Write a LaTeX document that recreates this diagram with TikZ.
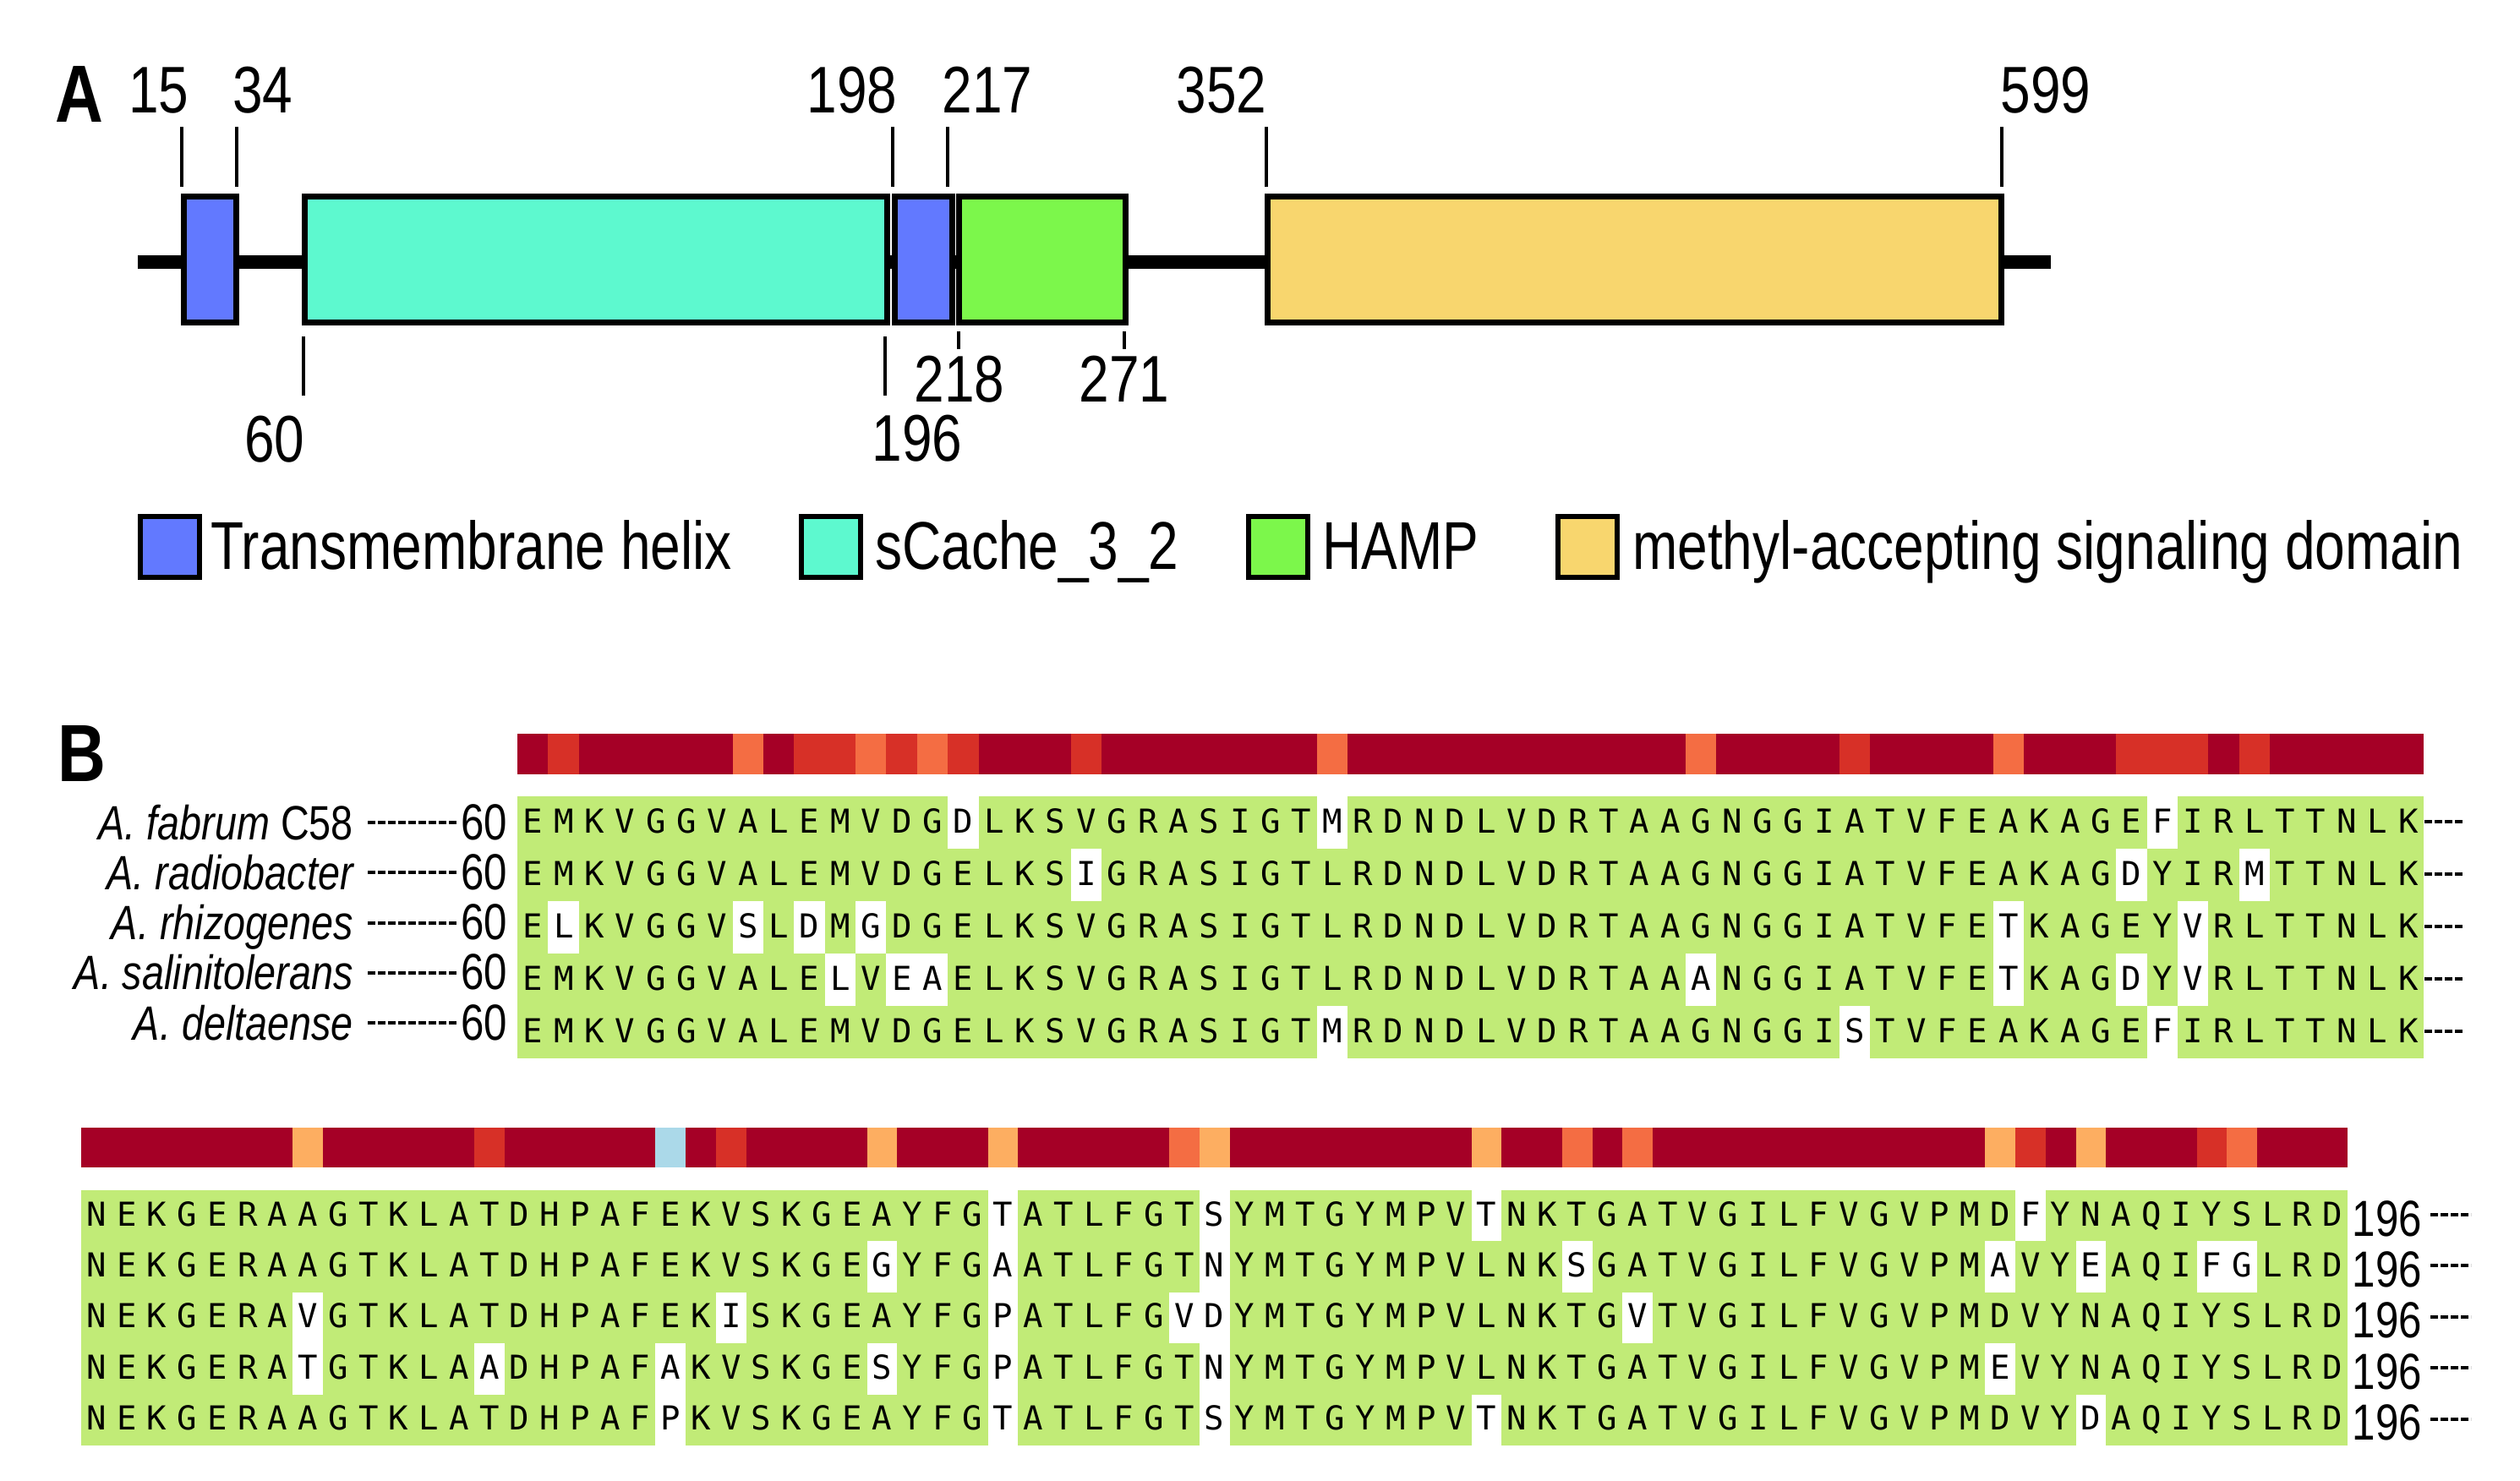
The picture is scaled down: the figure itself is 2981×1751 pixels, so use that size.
\documentclass[tikz,border=0pt]{standalone}
\usepackage{fontspec}
\setmainfont{Liberation Sans}
\newfontfamily\narrowsf[FakeStretch=0.82]{Liberation Sans}
\newfontfamily\legendsf[FakeStretch=0.8]{Liberation Sans}
\newfontfamily\seqsf{DejaVu Sans Mono}
\usetikzlibrary{positioning}

\definecolor{tmblue}{HTML}{6279FF}
\definecolor{cachecyan}{HTML}{5DF9CF}
\definecolor{hampgreen}{HTML}{7CF74B}
\definecolor{mcpyellow}{HTML}{F8D66E}
\definecolor{alnbg}{HTML}{C1EB77}
\definecolor{consdark}{HTML}{A50026}
\definecolor{consred}{HTML}{D73027}
\definecolor{consorange}{HTML}{F46D43}
\definecolor{conslight}{HTML}{FDAE61}
\definecolor{consblue}{HTML}{ABD9E9}

% one residue per column
\newlength\seqcol
\makeatletter
\def\spreadseq#1{\expandafter\spread@#1\@nil}
\def\spread@#1{\ifx#1\@nil\else\makebox[\seqcol]{#1}\expandafter\spread@\fi}
\makeatother

\begin{document}
\begin{tikzpicture}[x=1pt, y=-1pt,
    backbone/.style={line width=16pt},
    dombox/.style={draw, line width=7pt, minimum height=149pt, inner sep=0pt},
    tickline/.style={line width=4pt},
    posnum/.style={font=\narrowsf\fontsize{78}{80}\selectfont, inner sep=0pt, anchor=base},
    legbox/.style={draw, line width=6pt, minimum width=70pt, minimum height=72pt, inner sep=0pt},
    legtext/.style={font=\legendsf\fontsize{80}{82}\selectfont, inner sep=0pt, anchor=base west},
    panel/.style={font=\narrowsf\bfseries\fontsize{96}{96}\selectfont, inner sep=0pt, anchor=base},
    spname/.style={font=\narrowsf\itshape\fontsize{57}{60}\selectfont, inner sep=0pt, anchor=base east},
    seqnum/.style={font=\narrowsf\fontsize{60}{62}\selectfont, inner sep=0pt},
    residues/.style={font=\seqsf\fontsize{39}{40}\selectfont, inner sep=0pt, anchor=base west},
    gapdash/.style={line width=4pt, dash pattern=on 9pt off 3pt}]
    \useasboundingbox (0,0) rectangle (2981,1751);

    % Panel A: domains
    \node [panel] (lblA) at (94,144) {A};
    \coordinate (nterm) at (163,310);
    \coordinate (cterm) at (2426,310);
    \draw [backbone] (nterm) -- (cterm);

    \node [dombox, fill=tmblue,    minimum width=62pt]  (tm1)   at (248.5,307)  {};
    \node [dombox, fill=cachecyan, minimum width=689pt] (cache) at (705,307)    {};
    \node [dombox, fill=tmblue,    minimum width=68pt]  (tm2)   at (1092.5,307) {};
    \node [dombox, fill=hampgreen, minimum width=197pt] (hamp)  at (1233,307)   {};
    \node [dombox, fill=mcpyellow, minimum width=868pt] (mcp)   at (1933.5,307) {};

    % Positions
    \foreach \x/\lab/\lx in {215/15/188, 280/34/311, 1056/198/1008, 1121/217/1168, 1498/352/1445, 2368/599/2420} {
        \draw [tickline] (\x,150) -- (\x,221);
        \node [posnum] (top\lab) at (\lx,133) {\lab};
    }
    \foreach \x/\ya/\yb/\lab/\lx/\ly in {359/398/468/60/325/546, 1047/398/468/196/1085/545, 1134/392/413/218/1135/475, 1330/392/413/271/1330/475} {
        \draw [tickline] (\x,\ya) -- (\x,\yb);
        \node [posnum] (bot\lab) at (\lx,\ly) {\lab};
    }

    % Legend
    \foreach \cx/\fillc/\tx/\txt [count=\i] in {201/tmblue/249/Transmembrane helix, 982.5/cachecyan/1035/sCache\_3\_2, 1512/hampgreen/1564/HAMP, 1877.5/mcpyellow/1931/methyl-accepting signaling domain} {
        \node [legbox, fill=\fillc] (key\i) at (\cx,647) {};
        \node [legtext] (keytext\i) at (\tx,673) {\txt};
    }

    % Panel B: alignment, residues 60-134
    \node [panel] (lblB) at (97,924) {B};
    \fill [consdark] (612,868) rectangle (2867,916);
    \foreach \cc/\fillc in {2/consred, 8/consorange, 10/consred, 11/consred, 12/consorange, 13/consred, 14/consorange, 15/consred, 19/consred, 27/consorange, 39/consorange, 44/consred, 49/consorange, 53/consred, 54/consred, 55/consred, 57/consred}
        \fill [\fillc] ({612+(\cc-1)*36.37},868) rectangle ++(36.37,48);
    \fill [alnbg] (612,942) rectangle (2867,1252);
    \foreach \r/\cc in {1/15, 1/27, 1/54, 2/19, 2/53, 2/57, 3/2, 3/8, 3/10, 3/12, 3/49, 3/55, 4/11, 4/13, 4/14, 4/39, 4/49, 4/53, 4/55, 5/27, 5/44, 5/54}
        \fill [white] ({612+(\cc-1)*36.37},{942+(\r-1)*62}) rectangle ++(36.37,62);

    \setlength\seqcol{36.37pt}
    \foreach \r/\s in {1/EMKVGGVALEMVDGDLKSVGRASIGTMRDNDLVDRTAAGNGGIATVFEAKAGEFIRLTTNLK,
                       2/EMKVGGVALEMVDGELKSIGRASIGTLRDNDLVDRTAAGNGGIATVFEAKAGDYIRMTTNLK,
                       3/ELKVGGVSLDMGDGELKSVGRASIGTLRDNDLVDRTAAGNGGIATVFETKAGEYVRLTTNLK,
                       4/EMKVGGVALELVEAELKSVGRASIGTLRDNDLVDRTAAANGGIATVFETKAGDYVRLTTNLK,
                       5/EMKVGGVALEMVDGELKSVGRASIGTMRDNDLVDRTAAGNGGISTVFEAKAGEFIRLTTNLK} {
        \node [residues] (aln1-\r) at (612,{985+62*(\r-1)}) {\spreadseq\s};
        \draw [gapdash] ([shift={(1,-13)}]aln1-\r.base east) -- ++(45,0);
    }
    \foreach \r/\nm in {1/A. fabrum \textup{C58}, 2/A. radiobacter, 3/A. rhizogenes, 4/A. salinitolerans, 5/A. deltaense} {
        \node [spname] (sp\r) at (418,{993+59.3*(\r-1)}) {\nm};
        \node [seqnum, anchor=base east] (from\r) at (600,{993+59.3*(\r-1)}) {60};
        \draw [gapdash] ([shift={(17,-20)}]sp\r.base east) -- ([shift={(-4,-20)}]from\r.base west);
    }

    % Panel B: alignment, residues 122-196
    \fill [consdark] (96,1334) rectangle (2777,1381);
    \foreach \cc/\fillc in {8/conslight, 14/consred, 20/consblue, 22/consred, 27/conslight, 31/conslight, 37/consorange, 38/conslight, 47/conslight, 50/consorange, 52/consorange, 64/conslight, 65/consred, 67/conslight, 71/consred, 72/consorange}
        \fill [\fillc] ({96+(\cc-1)*35.75},1334) rectangle ++(35.75,47);
    \fill [alnbg] (96,1408) rectangle (2777,1710);
    \foreach \r/\cc in {3/8, 4/8, 4/14, 4/20, 5/20, 3/22, 2/27, 4/27, 1/31, 2/31, 3/31, 4/31, 5/31, 3/37, 1/38, 2/38, 3/38, 4/38, 5/38, 1/47, 5/47, 2/50, 3/52, 2/64, 4/64, 1/65, 2/67, 5/67, 2/71, 2/72}
        \fill [white] ({96+(\cc-1)*35.75},{1408+(\r-1)*60.4}) rectangle ++(35.75,60.4);

    \setlength\seqcol{35.75pt}
    \foreach \r/\s in {1/NEKGERAAGTKLATDHPAFEKVSKGEAYFGTATLFGTSYMTGYMPVTNKTGATVGILFVGVPMDFYNAQIYSLRD,
                       2/NEKGERAAGTKLATDHPAFEKVSKGEGYFGAATLFGTNYMTGYMPVLNKSGATVGILFVGVPMAVYEAQIFGLRD,
                       3/NEKGERAVGTKLATDHPAFEKISKGEAYFGPATLFGVDYMTGYMPVLNKTGVTVGILFVGVPMDVYNAQIYSLRD,
                       4/NEKGERATGTKLAADHPAFAKVSKGESYFGPATLFGTNYMTGYMPVLNKTGATVGILFVGVPMEVYNAQIYSLRD,
                       5/NEKGERAAGTKLATDHPAFPKVSKGEAYFGTATLFGTSYMTGYMPVTNKTGATVGILFVGVPMDVYDAQIYSLRD} {
        \node [residues] (aln2-\r) at (96,{1450+60.4*(\r-1)}) {\spreadseq\s};
        \node [seqnum, anchor=base west] (to\r) at ([shift={(5,12)}]aln2-\r.base east) {196};
        \draw [gapdash] ([shift={(10,-25)}]to\r.base east) -- ++(48,0);
    }
\end{tikzpicture}
\end{document}
